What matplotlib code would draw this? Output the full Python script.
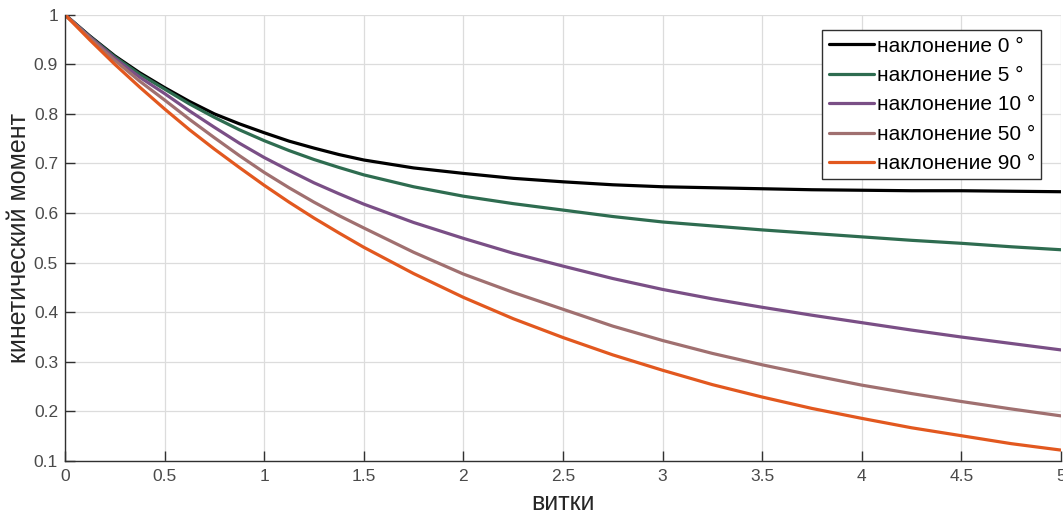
import matplotlib
matplotlib.use("Agg")
import matplotlib.pyplot as plt
from matplotlib.ticker import FuncFormatter

plt.rcParams['font.family'] = ['Liberation Sans', 'DejaVu Sans']

turns = [0, 0.125, 0.25, 0.375, 0.5, 0.625, 0.75, 0.875, 1, 1.125, 1.25, 1.375, 1.5,
         1.75, 2, 2.25, 2.5, 2.75, 3, 3.25, 3.5, 3.75, 4, 4.25, 4.5, 4.75, 5]

incl_0 = [1, 0.957, 0.917, 0.883, 0.853, 0.825, 0.800, 0.780, 0.762, 0.745, 0.731, 0.718, 0.707,
          0.691, 0.680, 0.670, 0.663, 0.657, 0.653, 0.651, 0.649, 0.647, 0.646, 0.645, 0.645, 0.644, 0.643]
incl_5 = [1, 0.956, 0.915, 0.880, 0.850, 0.820, 0.793, 0.768, 0.746, 0.726, 0.708, 0.692, 0.677,
          0.653, 0.634, 0.619, 0.606, 0.593, 0.582, 0.574, 0.566, 0.559, 0.552, 0.545, 0.539, 0.532, 0.526]
incl_10 = [1, 0.955, 0.912, 0.874, 0.841, 0.806, 0.773, 0.741, 0.712, 0.686, 0.661, 0.639, 0.618,
           0.581, 0.549, 0.519, 0.493, 0.468, 0.446, 0.427, 0.410, 0.394, 0.379, 0.364, 0.350, 0.337, 0.324]
incl_50 = [1, 0.953, 0.908, 0.866, 0.828, 0.789, 0.752, 0.716, 0.682, 0.651, 0.622, 0.595, 0.570,
           0.521, 0.477, 0.440, 0.406, 0.372, 0.343, 0.317, 0.294, 0.273, 0.253, 0.236, 0.220, 0.205, 0.191]
incl_90 = [1, 0.949, 0.900, 0.854, 0.810, 0.768, 0.729, 0.692, 0.656, 0.622, 0.590, 0.560, 0.531,
           0.478, 0.430, 0.387, 0.349, 0.314, 0.283, 0.254, 0.229, 0.206, 0.186, 0.167, 0.151, 0.135, 0.122]

series = [incl_0, incl_5, incl_10, incl_50, incl_90]
labels = ['наклонение 0 °', 'наклонение 5 °', 'наклонение 10 °',
          'наклонение 50 °', 'наклонение 90 °']
colors = ['#000000', '#2e6c50', '#7a4f86', '#a07070', '#e2581f']

x_ticks = [0, 0.5, 1, 1.5, 2, 2.5, 3, 3.5, 4, 4.5, 5]
y_ticks = [0.1, 0.2, 0.3, 0.4, 0.5, 0.6, 0.7, 0.8, 0.9, 1]

fig = plt.figure(figsize=(10.63, 5.17), dpi=100)
ax = fig.add_axes([0.0611, 0.1083, 0.937, 0.8633])

for ys, lab, c in zip(series, labels, colors):
    ax.plot(turns, ys, color=c, lw=2.3, label=lab,
            solid_joinstyle='round', solid_capstyle='round')

ax.set_xlim(0, 5)
ax.set_ylim(0.1, 1)
ax.set_xticks(x_ticks)
ax.set_yticks(y_ticks)
fmt = FuncFormatter(lambda v, p: f"{v:g}")
ax.xaxis.set_major_formatter(fmt)
ax.yaxis.set_major_formatter(fmt)
ax.grid(True, color='#dcdcdc', lw=0.9)
ax.set_axisbelow(True)
for s in ['top', 'right']:
    ax.spines[s].set_visible(False)
for s in ['left', 'bottom']:
    ax.spines[s].set_color('#303030')
    ax.spines[s].set_linewidth(1.0)
ax.tick_params(direction='in', length=7, width=1.0, colors='#303030',
               labelcolor='#4a4a4a', labelsize=12.5)
ax.tick_params(axis='x', pad=6)
ax.tick_params(axis='y', pad=5)

ax.set_xlabel('витки', fontsize=18, color='#262626', labelpad=5)
ax.set_ylabel('кинетический момент', fontsize=18, color='#262626', labelpad=2)

leg = ax.legend(loc='upper right', bbox_to_anchor=(0.98, 0.965), fontsize=15,
                frameon=True, fancybox=False, handlelength=2.2,
                handletextpad=0.1, borderpad=0.3, labelspacing=0.5,
                borderaxespad=0.0)
leg.get_frame().set_edgecolor('#303030')
leg.get_frame().set_linewidth(1.0)
leg.get_frame().set_alpha(1)

fig.savefig('out.png', dpi=100, facecolor='white')
